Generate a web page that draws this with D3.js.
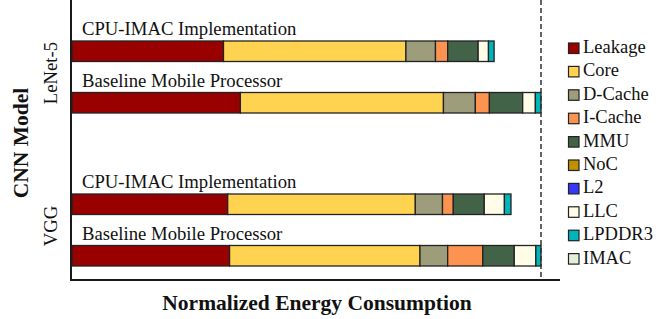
<!DOCTYPE html>
<html>
<head>
<meta charset="utf-8">
<script src="https://cdn.jsdelivr.net/npm/d3@7"></script>
<style>
  html, body { margin: 0; padding: 0; background: #fff; }
  svg text { font-family: "Liberation Serif", "Times New Roman", serif; fill: #111; }
</style>
</head>
<body>
<div id="chart"></div>
<script>
  // energy breakdown, normalized to the baseline mobile processor
  const components = ["Leakage", "Core", "D-Cache", "I-Cache", "MMU", "NoC", "L2", "LLC", "LPDDR3", "IMAC"];
  const colors = ["#990000", "#ffd350", "#9d9c7b", "#fd9350", "#436348", "#bf9000", "#3838f8", "#fffde7", "#00b4bc", "#e2f0d9"];
  const models = ["LeNet-5", "VGG"];
  const configs = ["CPU-IMAC Implementation", "Baseline Mobile Processor"];

  const lenetImac = [0.323, 0.389, 0.063, 0.026, 0.065, 0, 0, 0.022, 0.012, 0];
  const lenetBase = [0.359, 0.433, 0.068, 0.030, 0.071, 0, 0, 0.027, 0.012, 0];
  const vggImac   = [0.332, 0.400, 0.058, 0.023, 0.066, 0, 0, 0.043, 0.014, 0];
  const vggBase   = [0.336, 0.406, 0.059, 0.075, 0.067, 0, 0, 0.046, 0.011, 0];

  const rows = [
    {model: "LeNet-5", config: configs[0], values: lenetImac},
    {model: "LeNet-5", config: configs[1], values: lenetBase},
    {model: "VGG", config: configs[0], values: vggImac},
    {model: "VGG", config: configs[1], values: vggBase}
  ];

  const width = 658, height = 319;
  const axisX = 71, axisY = 280;
  const barH = 20.5;
  const labelSpace = 26;

  const svg = d3.select("#chart").append("svg")
    .attr("width", width)
    .attr("height", height);

  const x = d3.scaleLinear().domain([0, 1]).range([72, 541]);
  const yModel = d3.scaleBand().domain(models).range([15, 321]);
  const yConfig = d3.scaleBand().domain(configs).range([0, 103]);

  // bars
  rows.forEach(function (r) {
    const top = yModel(r.model) + yConfig(r.config) + labelSpace;
    var acc = 0;
    const segs = [];
    r.values.forEach(function (v, i) {
      segs.push({start: acc, end: acc + v, color: colors[i], v: v});
      acc += v;
    });

    svg.append("text")
      .attr("x", 82)
      .attr("y", top - 6)
      .style("font-size", "18.7px")
      .text(r.config);

    svg.append("g").selectAll("rect")
      .data(segs.filter(function (s) { return s.v > 0; }))
      .join("rect")
      .attr("x", function (s) { return x(s.start); })
      .attr("width", function (s) { return x(s.end) - x(s.start); })
      .attr("y", top)
      .attr("height", barH)
      .attr("fill", function (s) { return s.color; })
      .attr("stroke", "#222")
      .attr("stroke-width", 1.3);
  });

  // reference line at baseline = 1
  svg.append("line")
    .attr("x1", x(1)).attr("x2", x(1))
    .attr("y1", 0).attr("y2", axisY)
    .attr("stroke", "#333")
    .attr("stroke-width", 1.5)
    .attr("stroke-dasharray", "5,3");

  // axes lines
  svg.append("line")
    .attr("x1", axisX).attr("x2", axisX)
    .attr("y1", 0).attr("y2", axisY + 1)
    .attr("stroke", "#1a1a1a")
    .attr("stroke-width", 2);
  svg.append("line")
    .attr("x1", axisX - 1).attr("x2", 560)
    .attr("y1", axisY).attr("y2", axisY)
    .attr("stroke", "#1a1a1a")
    .attr("stroke-width", 2);

  // model labels
  svg.selectAll("text.model")
    .data(models)
    .join("text")
    .attr("class", "model")
    .attr("text-anchor", "middle")
    .attr("transform", function (m) { return "translate(57," + (yModel(m) + 58) + ") rotate(-90)"; })
    .style("font-size", "18.7px")
    .text(function (m) { return m; });

  svg.append("text")
    .attr("text-anchor", "middle")
    .attr("transform", "translate(28,143) rotate(-90)")
    .style("font-size", "21.5px")
    .style("font-weight", "bold")
    .text("CNN Model");

  svg.append("text")
    .attr("text-anchor", "middle")
    .attr("x", 317)
    .attr("y", 310)
    .style("font-size", "21.5px")
    .style("font-weight", "bold")
    .text("Normalized Energy Consumption");

  // legend
  const legend = svg.append("g")
    .selectAll("g")
    .data(components)
    .join("g")
    .attr("transform", function (d, i) { return "translate(568.5," + (43 + i * 23.4) + ")"; });

  legend.append("rect")
    .attr("width", 10.5)
    .attr("height", 10.5)
    .attr("fill", function (d, i) { return colors[i]; })
    .attr("stroke", "#222")
    .attr("stroke-width", 1.2);

  legend.append("text")
    .attr("x", 14.5)
    .attr("y", 10)
    .style("font-size", "18.5px")
    .text(function (d) { return d; });
</script>
</body>
</html>
